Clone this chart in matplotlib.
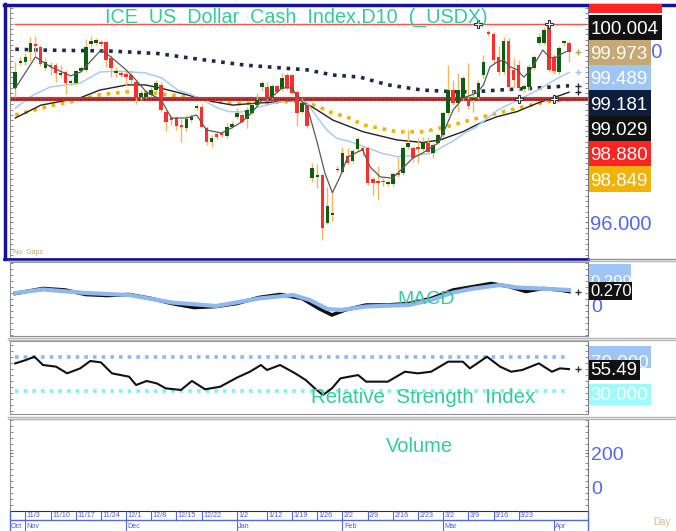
import numpy as np
import pandas as pd
import matplotlib
matplotlib.use("Agg")
import matplotlib.pyplot as plt
from matplotlib.patches import Rectangle
from matplotlib.ticker import MultipleLocator

plt.rcParams['font.family'] = ['Liberation Sans', 'DejaVu Sans']

# ---------------- data ----------------
opens = [99.12, 99.72, 99.74, 99.96, 100.15, 100.07, 99.60, 99.66, 99.66, 99.44,
         99.51, 99.24, 99.24, 99.52, 99.55, 100.15, 100.17, 100.18, 100.20, 99.83,
         99.48, 99.48, 99.45, 99.43, 99.27, 98.91, 98.93, 98.97, 99.08, 99.20,
         98.58, 98.42, 98.42, 98.27, 98.19, 98.38, 98.66, 98.68, 98.19, 97.88,
         98.06, 98.07, 98.01, 98.23, 98.46, 98.49, 98.40, 98.55, 98.73, 99.14,
         99.16, 98.90, 99.17, 99.10, 99.43, 99.43, 99.03, 98.58, 98.73, 97.03,
         97.05, 97.10, 95.99, 96.18, 97.21, 97.18, 97.55, 97.43, 97.70, 97.73,
         97.73, 97.00, 96.95, 96.97, 96.90, 96.90, 97.14, 97.14, 97.75, 97.73,
         97.73, 97.70, 97.86, 97.61, 97.86, 98.04, 98.54, 99.08, 98.77, 98.89,
         98.87, 98.85, 98.91, 99.43, 100.40, 100.38, 99.86, 99.51, 100.22, 99.55,
         99.66, 99.10, 99.16, 99.59, 100.18, 100.18, 100.59, 99.86, 99.51, 100.17,
         100.17]
closes = [99.51, 99.75, 99.84, 100.17, 100.11, 99.68, 99.73, 99.62, 99.48, 99.45,
          99.24, 99.29, 99.52, 99.59, 100.09, 100.21, 100.24, 100.16, 99.78, 99.59,
          99.51, 99.44, 99.39, 99.31, 98.89, 99.00, 99.00, 99.08, 99.24, 98.62,
          98.34, 98.38, 98.24, 98.21, 98.40, 98.45, 98.71, 98.23, 97.88, 97.96,
          97.99, 98.04, 98.22, 98.29, 98.55, 98.34, 98.62, 98.73, 98.86, 99.24,
          98.90, 99.17, 99.04, 99.35, 99.12, 99.02, 98.55, 98.79, 98.24, 97.26,
          97.08, 95.87, 96.38, 96.20, 97.24, 97.62, 97.39, 97.66, 97.93, 97.66,
          96.91, 96.91, 96.91, 96.93, 96.95, 97.13, 97.10, 97.73, 97.84, 97.49,
          97.70, 97.88, 97.65, 97.80, 98.04, 98.54, 99.08, 98.77, 99.08, 99.35,
          98.70, 98.89, 99.25, 99.74, 100.38, 99.78, 99.51, 100.22, 99.15, 99.31,
          99.12, 99.17, 99.62, 99.86, 100.32, 100.48, 99.55, 99.53, 100.05, 100.21,
          99.97]
highs = [99.73, 99.85, 99.94, 100.31, 100.34, 100.13, 99.83, 99.74, 99.71, 99.66,
         99.55, 99.34, 99.55, 99.64, 100.27, 100.34, 100.29, 100.24, 100.22, 99.90,
         99.62, 99.55, 99.55, 99.55, 99.31, 99.08, 99.06, 99.15, 99.31, 99.27,
         98.62, 98.50, 98.48, 98.41, 98.50, 98.52, 98.76, 98.76, 98.24, 98.04,
         98.10, 98.13, 98.31, 98.36, 98.66, 98.55, 98.69, 98.78, 99.01, 99.29,
         99.27, 99.22, 99.22, 99.48, 99.48, 99.45, 99.08, 98.89, 98.78, 97.38,
         97.36, 97.13, 96.83, 96.69, 97.31, 97.76, 97.73, 97.71, 97.99, 97.78,
         97.78, 97.06, 97.31, 97.03, 96.99, 97.17, 97.52, 97.78, 98.15, 97.78,
         97.97, 97.99, 97.99, 97.85, 98.08, 98.59, 99.66, 99.31, 99.48, 99.41,
         99.71, 99.08, 99.31, 99.90, 100.48, 100.43, 100.10, 100.32, 100.29, 99.83,
         99.78, 99.22, 99.69, 99.90, 100.41, 100.55, 100.62, 99.92, 100.11, 100.24,
         100.22]
lows = [98.92, 99.66, 99.66, 99.76, 99.87, 99.64, 99.55, 99.43, 99.27, 99.39,
        98.98, 99.20, 99.20, 99.50, 99.50, 100.08, 100.13, 100.10, 99.62, 99.38,
        99.38, 99.38, 99.17, 99.22, 98.76, 98.85, 98.89, 98.92, 99.01, 98.57,
        98.13, 98.27, 98.15, 97.87, 98.13, 98.34, 98.62, 98.22, 97.80, 97.76,
        97.94, 97.99, 97.97, 98.20, 98.41, 98.31, 98.20, 98.52, 98.69, 99.08,
        98.85, 98.87, 99.01, 99.06, 99.08, 98.99, 98.24, 98.55, 98.20, 96.95,
        96.80, 95.59, 95.97, 96.04, 97.17, 97.15, 97.36, 97.38, 97.66, 97.55,
        96.87, 96.64, 96.52, 96.85, 96.85, 96.85, 97.06, 97.10, 97.71, 97.41,
        97.38, 97.66, 97.62, 97.50, 97.83, 97.99, 98.50, 98.73, 98.57, 98.85,
        98.64, 98.57, 98.87, 99.36, 100.34, 99.69, 99.43, 99.45, 99.08, 99.13,
        99.08, 99.03, 99.08, 99.55, 100.13, 100.13, 99.50, 99.45, 99.45, 100.10,
        99.73]

# overlays: (bar position, value)
sma_pos = [0, 4, 7, 11, 13, 17, 19, 22, 24, 26, 29, 31, 34, 36, 38, 41, 43, 45, 47, 49,
           51, 53, 55, 56, 58, 60, 61.5, 63, 64.5, 66, 68, 69, 70.5, 72.5, 75, 77, 79, 81,
           84, 85, 87, 89, 91.7, 93, 94.3, 95.7, 97, 98.3, 99.7, 101, 102.2, 103.6, 104.8,
           106.2, 107.6, 108.8, 110]
sma_val = [99.12, 99.85, 99.62, 99.41, 99.50, 100.01, 99.85, 99.55, 99.31, 99.04, 98.85,
           98.43, 98.43, 98.50, 98.15, 98.08, 98.20, 98.34, 98.55, 98.85, 98.92, 99.13,
           99.13, 98.92, 98.69, 97.85, 97.15, 96.69, 97.06, 97.52, 97.64, 97.69, 97.29,
           97.06, 97.03, 97.27, 97.50, 97.62, 97.85, 98.08, 98.62, 98.90, 99.01, 99.20,
           99.62, 99.73, 99.78, 99.62, 99.55, 99.38, 99.52, 99.78, 100.01, 99.83, 99.85,
           99.94, 100.00]
lb_pos = [0, 3.5, 6.9, 12.9, 16.8, 20.2, 25.8, 29.1, 32.3, 35.0, 37.3, 39.7, 42.3, 45.0,
          46.6, 48.6, 52.6, 55.6, 57.9, 59.9, 61.9, 63.8, 66.5, 70.1, 72.8, 76.0, 80.0,
          82.8, 84.8, 86.8, 89.3, 91.3, 95.9, 99.9, 103.8, 107.8, 110]
lb_val = [98.66, 98.96, 99.15, 99.24, 99.50, 99.52, 99.48, 99.36, 99.08, 98.97, 98.85,
          98.69, 98.58, 98.57, 98.62, 98.69, 98.81, 98.85, 98.79, 98.46, 98.15, 97.96,
          97.88, 97.73, 97.61, 97.53, 97.57, 97.61, 97.76, 97.88, 98.08, 98.20, 98.62,
          98.85, 99.08, 99.36, 99.49]
blk_pos = [0, 5.1, 12.9, 16.8, 22.2, 25.8, 28.7, 34.1, 39.3, 43.2, 47.2, 52.6, 56.6,
           59.9, 63.1, 69.1, 75.8, 81.0, 84.4, 88.9, 92.3, 95.7, 99.7, 103.6, 107.6, 110]
blk_val = [98.43, 98.73, 98.90, 99.08, 99.20, 99.20, 99.13, 98.97, 98.81, 98.73, 98.77,
           98.81, 98.85, 98.62, 98.38, 98.11, 97.92, 97.86, 97.92, 98.11, 98.31, 98.46,
           98.58, 98.77, 98.93, 99.03]
nv_pos = [0, 5.1, 18.4, 28.3, 35.0, 41.7, 45.6, 51.2, 57.9, 63.1, 68.5, 74.0, 80.8,
          87.3, 91.3, 95.9, 102.6, 110]
nv_val = [100.03, 100.01, 99.99, 99.93, 99.82, 99.72, 99.66, 99.61, 99.55, 99.43, 99.38,
          99.20, 99.08, 99.04, 99.04, 99.08, 99.12, 99.18]
yl_pos = [0, 6.9, 12.9, 16.8, 22.2, 26.8, 33.3, 38.1, 43.2, 48.6, 53.9, 56.6, 59.9,
          63.1, 65.8, 69.1, 75.8, 81.0, 85.8, 90.3, 95.7, 100.9, 105.6, 110]
yl_val = [98.50, 98.71, 98.85, 98.97, 99.04, 99.02, 98.93, 98.85, 98.77, 98.77, 98.81,
          98.82, 98.71, 98.54, 98.46, 98.27, 98.11, 98.11, 98.23, 98.38, 98.54, 98.69,
          98.81, 98.85]
high_line = 100.616
red_line = 98.880

macd_pos = [0, 5.5, 9.9, 14, 18.4, 22.6, 27, 31.1, 35.5, 39.9, 44, 48.4, 52.6, 57, 60.3,
            62.9, 65.5, 69.7, 74, 78.2, 82.6, 87, 91.1, 94.5, 98.1, 101.4, 104.8, 108.2, 110]
macd_val = [0.23, 0.33, 0.30, 0.21, 0.19, 0.21, 0.13, 0.03, -0.05, -0.03, 0.03, 0.15,
            0.21, 0.13, -0.07, -0.20, -0.10, 0.00, 0.00, 0.03, 0.13, 0.30, 0.37, 0.43,
            0.37, 0.27, 0.33, 0.30, 0.27]
sig_pos = [0, 5.5, 14, 22.6, 31.1, 39.9, 48.4, 55.2, 58.5, 62, 64.7, 69.7, 78.2, 82.6,
           87, 91.1, 96.3, 99.7, 104, 110]
sig_val = [0.24, 0.31, 0.24, 0.20, 0.05, -0.02, 0.13, 0.20, 0.10, -0.08, -0.10, -0.03,
           0.00, 0.10, 0.25, 0.33, 0.40, 0.35, 0.33, 0.30]

rsi_pos = [0, 2.1, 3.8, 5.5, 8.1, 10.3, 12.9, 14.9, 17.0, 19.2, 22.6, 24.0, 26.1, 28.1,
           29.9, 32.9, 35.1, 37.7, 40.7, 44.0, 46.6, 48.8, 50.0, 52.6, 55.6, 57.7, 59.5,
           61.1, 62.9, 64.6, 68.1, 69.7, 74.0, 77.4, 80.0, 82.6, 86.0, 88.9, 90.3, 93.7,
           96.3, 98.5, 100.7, 104.0, 106.6, 108.2, 110]
rsi_val = [62.2, 66.1, 70.0, 60.3, 58.4, 50.6, 56.4, 65.0, 63.4, 50.6, 46.7, 37.0, 41.7,
           38.9, 33.1, 31.2, 41.7, 32.0, 35.0, 45.5, 52.5, 60.3, 54.5, 60.3, 50.6, 42.8,
           33.1, 25.3, 33.1, 44.8, 48.6, 40.9, 40.9, 52.5, 50.6, 52.5, 64.2, 64.2, 56.4,
           70.0, 58.4, 52.5, 54.5, 62.2, 52.5, 56.4, 55.5]

main_tag_values = [100.004, 99.973, 99.489, 99.181, 99.029, 98.880, 98.849]
macd_tag_values = [0.299, 0.270]
rsi_tag_values = [70.0, 55.49, 30.0]

holidays = ["2025-12-25", "2026-01-01"]
week_dates = ["2025-11-03", "2025-11-10", "2025-11-17", "2025-11-24", "2025-12-01",
              "2025-12-08", "2025-12-15", "2025-12-22", "2026-01-02", "2026-01-12",
              "2026-01-19", "2026-01-26", "2026-02-02", "2026-02-09", "2026-02-16",
              "2026-02-23", "2026-03-02", "2026-03-09", "2026-03-16", "2026-03-23"]
month_names = ["Nov", "Dec", "Jan", "Feb", "Mar", "Apr"]
month_dates = ["2025-11-03", "2025-12-01", "2026-01-02", "2026-02-02", "2026-03-02",
               "2026-04-01"]

# ---------------- layout helpers ----------------
W, H = 676, 531
def rect(x0, y0, x1, y1):
    return [x0 / W, 1 - y1 / H, (x1 - x0) / W, (y1 - y0) / H]

TEAL = '#33cc99'
AXBLUE = '#5566ee'
GRAY = '#8f8f8f'
XL = (-1.05, 113.77)

dates = pd.bdate_range("2025-10-30", "2026-04-06")
dates = dates[~dates.isin(pd.to_datetime(holidays))]
pos_of = {d: i for i, d in enumerate(dates)}
idx = np.arange(len(closes))

fig = plt.figure(figsize=(6.76, 5.31), dpi=100)
fig.patch.set_facecolor('white')


def style_panel(a, minor):
    a.set_xlim(*XL)
    a.set_xticks([])
    a.yaxis.tick_right()
    a.yaxis.set_minor_locator(MultipleLocator(minor))
    a.tick_params(axis='y', which='both', left=True, right=True, direction='in',
                  length=2.5, color='#777777', labelcolor=AXBLUE, labelsize=14, pad=2)
    for s in ['top', 'bottom', 'left']:
        a.spines[s].set_color(GRAY)
    a.spines['right'].set_color('#777777')
    a.spines['right'].set_linestyle((0, (2, 1)))


# ---------------- price panel ----------------
ax = fig.add_axes(rect(10, 6, 588, 257))
ax.set_ylim(95.197, 101.035)
style_panel(ax, 0.125)
ax.spines['top'].set_visible(False)
ax.spines['bottom'].set_visible(False)
ax.set_yticks([96, 100])
ax.set_yticklabels(['96.000', '100.000'])
ax.tick_params(axis='y', which='major', labelsize=14.5, pad=1.5)

ax.hlines(high_line, -0.2, 113.3, color='#ff5050', lw=1, zorder=1)
ax.plot(nv_pos, nv_val, color='#1c2a4c', lw=2.6, ls=(0, (1, 1.6)), zorder=2)
ax.plot(yl_pos, yl_val, color='#f2b400', lw=2.6, ls=(0, (1, 1.6)), zorder=2)
ax.plot(blk_pos, blk_val, color='#222222', lw=1.0, zorder=2)
ax.plot(lb_pos, lb_val, color='#a9cbf5', lw=1.1, zorder=2)
ax.axhline(red_line, color='#c23838', lw=3, zorder=2.5)
ax.axhline(red_line, color='#2e2e40', lw=1, ls=(0, (1, 1)), zorder=2.6)

o = np.array(opens)
c = np.array(closes)
up = c >= o
body_lo = np.minimum(o, c)
body_h = np.maximum(np.abs(c - o), 0.045)
ax.vlines(idx, lows, highs, color='#f6b65a', lw=1, zorder=3)
ax.bar(idx[up], body_h[up], bottom=body_lo[up], width=0.72, color='#0b5e12', zorder=4)
ax.bar(idx[~up], body_h[~up], bottom=body_lo[~up], width=0.72, color='#ff2d2d', zorder=4)
ax.plot(sma_pos, sma_val, color='#5a5a5a', lw=0.9, zorder=5)

# anchor crosses of the drawn lines
ax.plot([92, 106], [high_line, high_line], ls='none', marker='P', ms=6,
        mfc='white', mec='#333333', mew=0.8, zorder=6)
ax.plot([100, 107], [red_line, red_line], ls='none', marker='P', ms=6,
        mfc='white', mec='#333333', mew=0.8, zorder=6)
# end-of-line markers
for v, col in [(closes[-1], '#b89a60'), (lb_val[-1], '#9fc4f6'),
               (nv_val[-1], '#1c2a4c'), (blk_val[-1], '#222222')]:
    ax.plot([111.8], [v], marker='+', ms=4, color=col, mew=1, zorder=6)

ax.text(0.495, 0.955, 'ICE  US  Dollar  Cash  Index,D10  (_USDX)', transform=ax.transAxes,
        ha='center', va='center', color=TEAL, fontsize=14.2, zorder=7)
ax.text(0.006, 0.012, 'No  Gaps', transform=ax.transAxes, fontsize=5, color='#c8a46e')

# ---------------- MACD panel ----------------
mx = fig.add_axes(rect(10, 262, 588, 336))
mx.set_ylim(-0.62, 0.86)
style_panel(mx, 0.12)
mx.set_yticks([0])
mx.set_yticklabels(['0'])
mx.plot(macd_pos, macd_val, color='#111111', lw=2.6, zorder=2)
mx.plot(sig_pos, sig_val, color='#8fb8ef', lw=3.0, zorder=3)
mx.plot([111.8], [macd_val[-1]], marker='+', ms=4, color='#333333', mew=1)
mx.text(0.72, 0.49, 'MACD', transform=mx.transAxes, ha='center', va='center',
        color=TEAL, fontsize=14)

# ---------------- RSI panel ----------------
rx = fig.add_axes(rect(10, 341, 588, 414))
rx.set_ylim(3.2, 88.3)
style_panel(rx, 7)
rx.set_yticks([])
rx.hlines(70, 0, 110, color='#8fb8ef', lw=2.6, ls=(0, (1, 1.4)), zorder=1)
rx.hlines(30, 0, 110, color='#7ff2f2', lw=2.6, ls=(0, (1, 1.4)), zorder=1)
rx.plot(rsi_pos, rsi_val, color='#111111', lw=1.5, zorder=2)
rx.plot([111.8], [rsi_val[-1]], marker='+', ms=4, color='#333333', mew=1)
rx.text(0.715, 0.23, 'Relative  Strength  Index', transform=rx.transAxes, ha='center',
        va='center', color=TEAL, fontsize=14.8, zorder=3)

# ---------------- Volume panel ----------------
vx = fig.add_axes(rect(10, 419, 588, 511))
vx.set_ylim(-141, 400)
style_panel(vx, 36)
vx.set_yticks([0, 200])
vx.set_yticklabels(['0', '200'])
vx.spines['bottom'].set_color('#333333')
vx.text(0.709, 0.70, 'Volume', transform=vx.transAxes, ha='center', va='center',
        color=TEAL, fontsize=14.5)

# ---------------- date axis ----------------
dx = fig.add_axes(rect(10, 511, 588, 531))
dx.set_xlim(*XL)
dx.set_ylim(0, 20)
dx.axis('off')
dx.axhline(11, color=AXBLUE, lw=1)
week_idx = [pos_of[pd.Timestamp(d)] for d in week_dates]
dx.vlines(week_idx, 11, 20, color=AXBLUE, lw=0.8)
for i, d in zip(week_idx, week_dates):
    t = pd.Timestamp(d)
    dx.text(i + 0.3, 15.3, f"{t.month}/{t.day}", fontsize=5.2, color='#4f5fc8',
            ha='left', va='center')
month_idx = [pos_of[pd.Timestamp(d)] for d in month_dates]
dx.vlines(month_idx, 0, 11, color=AXBLUE, lw=0.8)
dx.text(XL[0] + 0.1, 4.8, 'Oct', fontsize=5.2, color='#4f5fc8', ha='left', va='center')
for i, name in zip(month_idx, month_names):
    dx.text(i + 0.3, 4.8, name, fontsize=5.2, color='#4f5fc8', ha='left', va='center')

# ---------------- frames and value tags ----------------
ov = fig.add_axes([0, 0, 1, 1], zorder=10)
ov.set_xlim(0, W)
ov.set_ylim(H, 0)
ov.axis('off')
ov.patch.set_visible(False)

DB = '#14149a'
ov.plot([4, W], [4.5, 4.5], color=DB, lw=2.5)
ov.plot([5, 5], [4, 259], color=DB, lw=2.5)
ov.plot([4, 588], [258.5, 258.5], color=DB, lw=2)
ov.plot([588, W], [258.5, 258.5], color=GRAY, lw=1)
for yy in [261, 337.5, 339.5, 416.5, 418.5]:
    ov.plot([8, W], [yy, yy], color='#b5b5b5', lw=1)
ov.plot([10, 10], [511, 531], color=AXBLUE, lw=1)
ov.plot([588, 588], [511, 531], color=AXBLUE, lw=1)
ov.text(662, 522, 'Day', fontsize=7, color='#d9b98a', ha='center', va='center')

layer = [5]


def tag(y0, y1, x1, text, bg, fs, base=None):
    z = layer[0]
    layer[0] += 1
    ov.add_patch(Rectangle((589, y0), x1 - 589, y1 - y0, facecolor=bg,
                           edgecolor='none', zorder=z))
    if text:
        yb = base if base is not None else y1 - 0.24 * (y1 - y0)
        ov.text(590.5, yb, text, color='white', fontsize=fs, ha='left',
                va='baseline', zorder=z + 0.5)


tag(4, 13, 662, '', '#ff2424', 13.5)
main_colors = ['#111111', '#c6a874', '#9fc4f6', '#0e1d3c', '#111111', '#ff2424', '#f0b30a']
main_rows = [(15, 40, 662), (40, 65, 651), (65, 90, 651), (90, 116, 651),
             (116, 141, 651), (141, 166, 651), (166, 192, 651)]
for v, col, (y0, y1, x1) in zip(main_tag_values, main_colors, main_rows):
    tag(y0, y1, x1, f"{v:.3f}", col, 13.5)

tag(264, 283, 631, f"{macd_tag_values[0]:.3f}", '#9fc4f6', 12, base=287)
tag(282, 300, 632, f"{macd_tag_values[1]:.3f}", '#111111', 12)

tag(346, 368, 651, f"{rsi_tag_values[0]:.3f}", '#9fc4f6', 13.5, base=368)
tag(360, 380, 640, f"{rsi_tag_values[1]:.2f}", '#111111', 13.5)
tag(384, 405, 651, f"{rsi_tag_values[2]:.3f}", '#9ffafa', 13.5)

fig.savefig('out.png', dpi=100)
